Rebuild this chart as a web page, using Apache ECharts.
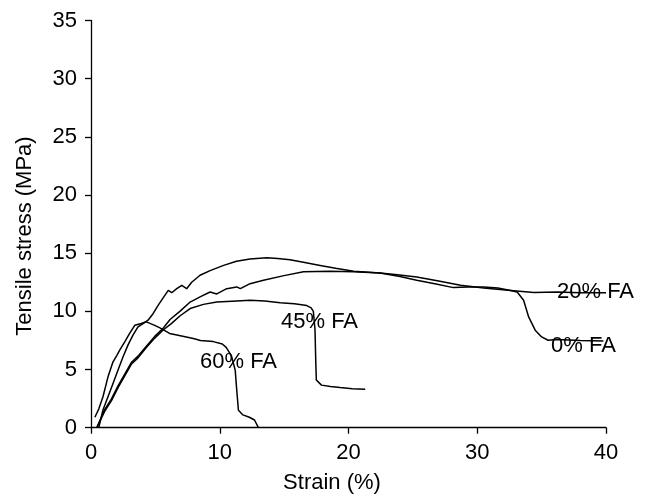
<!DOCTYPE html>
<html>
<head>
<meta charset="utf-8">
<script src="https://cdn.jsdelivr.net/npm/echarts@6/dist/echarts.min.js"></script>
<style>
html,body{margin:0;padding:0;background:#fff;}
#chart{width:646px;height:494px;}
</style>
</head>
<body>
<div id="chart"></div>
<script>
// Strain (%) , Tensile stress (MPa)
var xTicks = [0, 10, 20, 30, 40];
var yTicks = [0, 5, 10, 15, 20, 25, 30, 35];

var fa0 = [[0.45,0],[1.06,1.55],[1.58,2.45],[2.1,3.6],[2.62,4.6],[3.13,5.6],[3.65,6.15],[4.3,7.0],[4.95,7.85],[5.6,8.55],[6.14,9.3],[6.9,10.0],[7.7,10.8],[8.47,11.24],[9.25,11.66],[9.77,11.5],[10.54,11.95],[11.32,12.1],[11.6,11.95],[12.35,12.38],[13.4,12.67],[14.9,13.05],[16.5,13.4],[18.5,13.45],[20.4,13.4],[22.45,13.3],[24,13.0],[25.3,12.67],[26.8,12.35],[28.15,12.04],[29.3,12.1],[30.5,12.1],[31.6,12.0],[32.6,11.8],[33.1,11.66],[33.6,10.95],[34.0,9.5],[34.5,8.38],[35.0,7.8],[35.5,7.52],[36.2,7.58],[38,7.5],[39.8,7.46]];

var fa20 = [[0.6,0],[0.93,1.52],[1.32,2.66],[1.71,3.8],[2.1,4.95],[2.49,6.1],[2.87,7.1],[3.26,7.95],[3.65,8.66],[4.04,8.95],[4.43,9.24],[4.82,9.8],[5.2,10.5],[5.47,10.95],[5.75,11.4],[6.0,11.8],[6.27,11.6],[6.66,11.95],[7.05,12.24],[7.43,11.95],[7.82,12.5],[8.47,13.1],[9.25,13.5],[10.3,13.95],[11.3,14.3],[12.35,14.5],[13.65,14.6],[14.5,14.55],[15.46,14.44],[16.6,14.2],[17.8,13.95],[19.0,13.7],[20.4,13.44],[22.45,13.3],[23.8,13.15],[25.3,12.95],[27.0,12.6],[28.7,12.24],[30.5,12.0],[32.6,11.8],[34.4,11.62],[36.2,11.66],[38,11.6],[40.0,11.6]];

var fa45 = [[0.45,0],[1.06,1.4],[1.58,2.3],[2.1,3.45],[2.62,4.45],[3.13,5.45],[3.65,6.0],[4.3,6.9],[4.95,7.7],[5.6,8.4],[6.24,8.95],[6.9,9.6],[7.7,10.24],[8.73,10.6],[9.77,10.8],[11.32,10.9],[12.35,10.95],[13.5,10.9],[14.7,10.75],[15.8,10.65],[16.76,10.5],[17.1,10.3],[17.27,10.0],[17.4,8.4],[17.45,6],[17.5,4.1],[17.9,3.66],[18.6,3.55],[19.35,3.46],[20.3,3.35],[21.3,3.3]];

var fa60 = [[0.3,0.9],[0.6,1.6],[0.93,2.66],[1.32,4.37],[1.71,5.66],[2.0,6.2],[2.23,6.66],[2.62,7.38],[3.0,8.1],[3.4,8.8],[3.9,8.95],[4.3,9.1],[4.95,8.8],[5.47,8.52],[6.1,8.1],[6.76,7.95],[7.95,7.66],[8.5,7.5],[9.5,7.4],[10.2,7.2],[10.5,6.9],[10.9,6.2],[11.2,4.95],[11.3,3.5],[11.45,1.5],[11.8,1.1],[12.3,0.9],[12.7,0.66],[13.0,0]];

var seriesNames = ['0% FA', '20% FA', '45% FA', '60% FA'];
var seriesData = [fa0, fa20, fa45, fa60];

var FONT = '"Liberation Sans", Arial, sans-serif';
var chart = echarts.init(document.getElementById('chart'), null, {renderer: 'canvas'});

function mkLine(name, data) {
  return {
    name: name, type: 'line', data: data, showSymbol: false, symbol: 'none',
    lineStyle: {color: '#000', width: 1.5}, animation: false, silent: true
  };
}

var axisCommon = {
  axisLine: {show: true, onZero: false, lineStyle: {color: '#000', width: 1.3}},
  axisTick: {show: true, inside: false, length: 6, lineStyle: {color: '#000', width: 1.3}},
  splitLine: {show: false},
  axisLabel: {color: '#000', fontSize: 22, fontFamily: FONT}
};

chart.setOption({
  animation: false,
  backgroundColor: '#fff',
  grid: {left: 91, right: 40, top: 20.5, bottom: 66.3, containLabel: false, outerBoundsMode: 'none'},
  xAxis: Object.assign({}, axisCommon, {
    type: 'value', min: xTicks[0], max: xTicks[xTicks.length - 1], interval: 10,
    axisLabel: Object.assign({}, axisCommon.axisLabel, {margin: 14})
  }),
  yAxis: Object.assign({}, axisCommon, {
    type: 'value', min: yTicks[0], max: yTicks[yTicks.length - 1], interval: 5,
    axisLabel: Object.assign({}, axisCommon.axisLabel, {margin: 14})
  }),
  series: seriesData.map(function (d, i) { return mkLine(seriesNames[i], d); }),
  graphic: [
    {type: 'text', x: 332, y: 483, style: {text: 'Strain (%)', font: '22px ' + FONT, fill: '#000', textAlign: 'center', textVerticalAlign: 'middle'}},
    {type: 'text', x: 25, y: 236, rotation: Math.PI / 2, style: {text: 'Tensile stress (MPa)', font: '22px ' + FONT, fill: '#000', textAlign: 'center', textVerticalAlign: 'middle'}},
    {type: 'text', x: 557, y: 292, style: {text: '20% FA', font: '22px ' + FONT, fill: '#000', textAlign: 'left', textVerticalAlign: 'middle'}},
    {type: 'text', x: 551, y: 346, style: {text: '0% FA', font: '22px ' + FONT, fill: '#000', textAlign: 'left', textVerticalAlign: 'middle'}},
    {type: 'text', x: 281, y: 322, style: {text: '45% FA', font: '22px ' + FONT, fill: '#000', textAlign: 'left', textVerticalAlign: 'middle'}},
    {type: 'text', x: 200, y: 362, style: {text: '60% FA', font: '22px ' + FONT, fill: '#000', textAlign: 'left', textVerticalAlign: 'middle'}}
  ]
});
</script>
</body>
</html>
